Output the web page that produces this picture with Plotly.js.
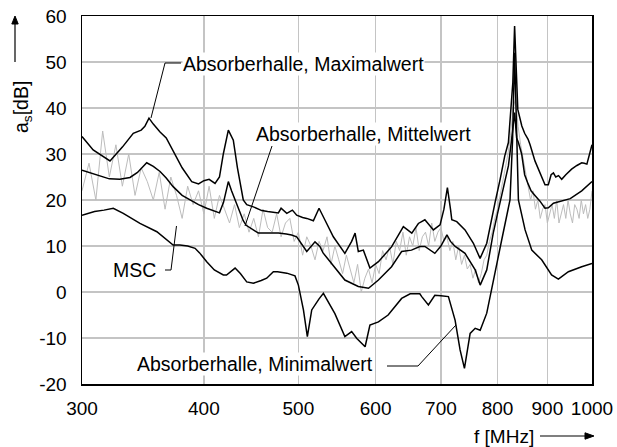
<!DOCTYPE html>
<html>
<head>
<meta charset="utf-8">
<script src="https://cdn.plot.ly/plotly-3.0.1.min.js"></script>
<style>html,body{margin:0;padding:0;background:#fff;}#chart{width:617px;height:447px;}</style>
</head>
<body>
<div id="chart"></div>
<script>
// ---- data (frequency in MHz, attenuation in dB) ----
const xTicks = [300, 400, 500, 600, 700, 800, 900, 1000];
const xTickText = ['300', '400', '500', '600', '700', '800', '900', '1000'];
const yTicks = [-20, -10, 0, 10, 20, 30, 40, 50, 60];
const yTickText = ['-20', '-10', '0', '10', '20', '30', '40', '50', '60'];

const maxFreq = [300,308,320.5,330,338.6,345,348,351.4,355,360.7,366,373.7,380,388.7,395,400,405,410.7,415,418.8,423.8,428.8,433,439,442.6,449.6,458.6,465,476.9,480,486.5,493,498,505,510,518,525,532.5,543,558,567,571.6,576,582.9,592,604,623,640.6,653.5,663.7,674,687.7,698.6,705,710.8,716,718.2,726.7,741,755.8,767.8,780,789,795.5,805,813.9,820.9,829.5,833,839.3,847.3,853,860,864,874,884,895,902,908,913,918,924,931,940,953,965,976,982,988,1000];
const maxVal = [33.8,30.9,28.5,31.5,34.5,35.2,36,37.8,36.5,34.8,33.5,29.8,27,24,23.5,24.2,24.5,23.6,25,30,35.2,33,27,20,19,18.5,17.7,17.5,17.2,18.2,17.1,17.8,16.7,16.2,16,15.5,18.2,15.6,12,8.4,11,12.8,8.8,9.1,5.2,6.6,9.8,14.2,12.8,14.9,15.7,13.5,14.6,18,22.7,18,15.7,15.3,13.5,10.6,7.3,10.6,16,19.5,24.5,29.6,32.5,45.5,57.8,39.7,36.1,34.5,33.2,32,28.5,25.8,23.3,23.3,25.5,25.9,25,25.3,24.5,25.5,26.7,27.5,28.1,28,27.8,32];

const meanFreq = [300,310,320,328,336,342,349.5,355,360.7,366,372,380,387,395,402.7,410,415,419,423.8,427,430.6,435,439,442,450,455,465,477,486,492,498,504,510,520,526,530,541,558,576,590,604,623,638,653,666,674,690,700,710,716,724,741,759,768,780,792,800,805,812,820.9,827,833,837,840.5,847,853,860,866,874,884,895,902,913,930,950,976,1000];
const meanVal = [26.5,25.5,24.6,24.5,24.9,26,28.1,27.3,26.2,24.8,22.9,21,20,19,18.2,17.5,17.2,19.5,24,22,20,17.5,15.5,14.5,13.5,12.8,12.8,12.8,12.6,12.4,12,10.5,8.8,10.9,9.9,8.5,6.2,2.6,1.2,0.8,2.6,5.5,8.8,9.1,9.9,9.9,8.4,10,12.4,11,9.9,8.4,4.8,1.5,4.8,12.8,17,19.5,23.5,27.4,33,39,33.5,32.5,30,25.5,23.5,22,21,19.8,18.2,18.3,19.3,19.8,20.3,22,24];

const minFreq = [300,309,316,323,330.7,344,358,366.4,372,378,385,391.8,396,402.7,410,418.8,422,430.6,436,442.6,449.6,458,464,471.3,476,486.5,496,500,506,510.7,516,525,530.4,545,558,567,574,585.3,592,604,618,638,651,666,669,679.6,690,700,712.5,723.8,732.4,740,750,759,768,780,792,808,824,829,833,837,840.5,853.9,867.5,888,909,923.7,945.8,976,1000];
const minVal = [16.7,17.5,17.8,18.2,17.1,14.9,13.1,11.3,10.2,10.2,10,9.5,8.5,6.6,4.8,3.7,3.7,5.2,4,2.2,1.9,2.5,3,4.4,4.4,4.1,3.5,1.5,-3.9,-9.7,-3.9,-1.5,-0.3,-4.7,-9.7,-8.6,-10.1,-11.9,-7.2,-6.5,-5,-1.4,-0.4,-0.4,-1,-2.8,-0.7,-0.8,-1,-6.1,-12.6,-16.6,-9,-7.9,-8.3,-4.6,2.6,11.3,20,33,52,33,20,13.5,9.1,7,3.7,2.8,4.4,5.5,6.2];

// MSC: sampled every 5 MHz from 300 to 1000 MHz
const mscStart = 300, mscStep = 5;
const mscVal = [
  22,28,20,35,25,32,23,30,21,27,
  24,20,26,18,25,21,16,23,19,22,
  17,23,16,21,18,15,19,14,17,13,
  16,12,18,14,13,17,12,15,16,11,
  13,8,12,10,7,11,9,12,6,10,
  7,4,8,5,2,6,0,3,5,2,
  6,4,9,7,10,6,11,9,13,8,
  12,10,14,9,12,13,10,15,11,13,
  14,11,12,9,11,7,10,6,8,5,
  6,3,5,2,4,7,8,11,13,16,
  18,21,24,27,30,34,40,42,36,32,
  29,26,23,20,22,18,20,16,18,19,
  15,17,19,16,20,15,17,19,16,20,
  17,15,19,18,16,20,17,19,16,18,
  22];
const mscFreq = mscVal.map((v, i) => mscStart + i * mscStep);

// ---- layout helpers (pixel -> paper) ----
const PL = 82, PR = 592, PT = 16, PB = 384;
function P(x, y) { return [(x - PL) / (PR - PL), (PB - y) / (PB - PT)]; }
function path(pts, close) {
  return pts.map((p, i) => (i ? 'L' : 'M') + P(p[0], p[1]).map(v => v.toFixed(5)).join(',')).join(' ') + (close ? ' Z' : '');
}
const FONT = 'Liberation Sans, Arial, Helvetica, sans-serif';

const lineStyle = {color: '#000', width: 1.5};
const traces = [
  {x: mscFreq, y: mscVal, type: 'scatter', mode: 'lines', line: {color: '#bcbcbc', width: 1}, name: 'MSC'},
  {x: minFreq, y: minVal, type: 'scatter', mode: 'lines', line: lineStyle, name: 'Absorberhalle, Minimalwert'},
  {x: meanFreq, y: meanVal, type: 'scatter', mode: 'lines', line: lineStyle, name: 'Absorberhalle, Mittelwert'},
  {x: maxFreq, y: maxVal, type: 'scatter', mode: 'lines', line: lineStyle, name: 'Absorberhalle, Maximalwert'}
];

function leader(pts) {
  return {type: 'path', xref: 'paper', yref: 'paper', path: path(pts), line: {color: '#000', width: 1}};
}
function tri(pts) {
  return {type: 'path', xref: 'paper', yref: 'paper', path: path(pts, true), line: {color: '#000', width: 1}, fillcolor: '#000'};
}
const shapes = [
  leader([[181, 63], [165, 63], [151, 118]]),
  leader([[272, 146], [245, 226]]),
  leader([[165, 270], [171, 270], [176.5, 226]]),
  leader([[387, 366], [418, 366], [456, 325]]),
  // y arrow
  {type: 'path', xref: 'paper', yref: 'paper', path: path([[15, 62], [15, 23]]), line: {color: '#000', width: 1.2}},
  tri([[15, 16], [11.8, 24], [18.2, 24]]),
  // x arrow
  {type: 'path', xref: 'paper', yref: 'paper', path: path([[540, 436], [586, 436]]), line: {color: '#000', width: 1.2}},
  tri([[594, 436], [585, 432.8], [585, 439.2]])
];

function label(text, x, y, xanchor) {
  const p = P(x, y);
  return {text: text, xref: 'paper', yref: 'paper', x: p[0], y: p[1], xanchor: xanchor, yanchor: 'middle',
          showarrow: false, bgcolor: '#fff', borderpad: 0, font: {family: FONT, size: 19.5, color: '#000'}};
}
const annotations = [
  label('Absorberhalle, Maximalwert', 182, 64, 'left'),
  label('Absorberhalle, Mittelwert', 255, 134, 'left'),
  label('MSC', 157, 270, 'right'),
  label('Absorberhalle, Minimalwert', 136, 364, 'left'),
  {text: 'f [MHz]', xref: 'paper', yref: 'paper', x: P(504, 0)[0], y: P(0, 436)[1], xanchor: 'center', yanchor: 'middle',
   showarrow: false, font: {family: FONT, size: 19, color: '#000'}},
  {text: 'a<sub>s</sub>[dB]', xref: 'paper', yref: 'paper', x: P(22, 0)[0], y: P(0, 107)[1], xanchor: 'center', yanchor: 'middle',
   textangle: -90, showarrow: false, font: {family: FONT, size: 19.5, color: '#000'}}
];

const axisCommon = {
  showgrid: true, gridcolor: '#c4c4c4', gridwidth: 1.5,
  showline: true, linecolor: '#000', linewidth: 1.5, mirror: true,
  ticks: '', zeroline: false, tickfont: {family: FONT, size: 19, color: '#000'}
};
const layout = {
  width: 617, height: 447,
  margin: {l: PL, r: 617 - PR, t: PT, b: 447 - PB, pad: 0},
  paper_bgcolor: '#fff', plot_bgcolor: '#fff',
  showlegend: false,
  font: {family: FONT, size: 19, color: '#000'},
  xaxis: Object.assign({}, axisCommon, {type: 'log', range: [Math.log10(300), 3], tickmode: 'array', tickvals: xTicks, ticktext: xTickText, ticklabelstandoff: 7}),
  yaxis: Object.assign({}, axisCommon, {range: [-20, 60], tickmode: 'array', tickvals: yTicks, ticktext: yTickText, ticklabelstandoff: 10}),
  shapes: shapes,
  annotations: annotations
};
Plotly.newPlot('chart', traces, layout, {staticPlot: true, displayModeBar: false});
</script>
</body>
</html>
